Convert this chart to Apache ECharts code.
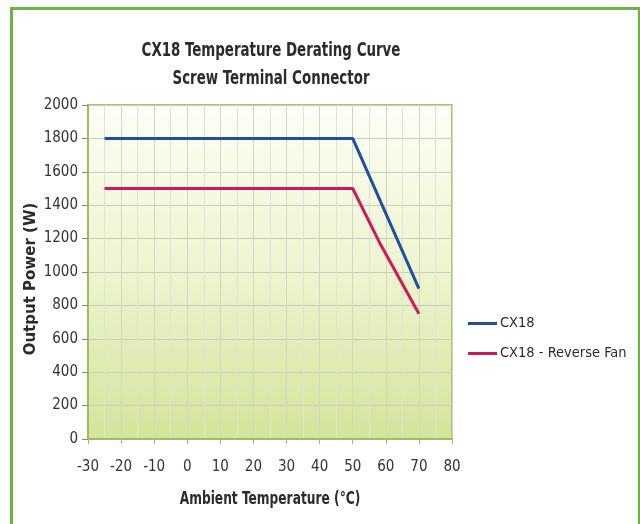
<!DOCTYPE html>
<html><head><meta charset="utf-8">
<script src="https://cdn.jsdelivr.net/npm/echarts@6/dist/echarts.min.js"></script>
<style>html,body{margin:0;padding:0;background:#fff}#c{width:640px;height:524px}</style>
</head><body><div id="c"></div>
<script>
const titleLines = ['CX18 Temperature Derating Curve', 'Screw Terminal Connector'];
const xName = 'Ambient Temperature (°C)';
const yName = 'Output Power (W)';
const seriesNames = ['CX18', 'CX18 - Reverse Fan'];
const cx18Temp = [-25, 50, 70];
const cx18Power = [1800, 1800, 900];
const revTemp = [-25, 50, 58, 70];
const revPower = [1500, 1500, 1180, 750];

const condensed = "'Liberation Sans Narrow','DejaVu Sans Condensed','Roboto Condensed',sans-serif";
const chart = echarts.init(document.getElementById('c'), null, {renderer: 'canvas'});
function label(text, x, y, size, opts) {
  return Object.assign({
    type: 'text', x: x, y: y, silent: true, z: 10,
    style: {text: text, font: 'bold ' + size + 'px ' + condensed, fill: '#2b2b2b',
            textAlign: 'center', textVerticalAlign: 'middle'}
  }, opts || {});
}
chart.setOption({
  animation: false,
  backgroundColor: '#ffffff',
  graphic: [
    {type: 'rect', left: 9, top: 6, shape: {width: 628, height: 540},
     style: {fill: 'none', stroke: '#6cb444', lineWidth: 3}, silent: true},
    label(titleLines[0], 271, 51, 20, {scaleX: 0.745}),
    label(titleLines[1], 271, 79, 20, {scaleX: 0.745}),
    label(xName, 270, 500, 17, {scaleX: 0.8}),
    {type: 'text', x: 31, y: 279, rotation: Math.PI / 2, silent: true, z: 10,
     style: {text: yName, font: "bold 15px 'DejaVu Sans',Verdana,sans-serif", fill: '#2b2b2b',
             textAlign: 'center', textVerticalAlign: 'middle'}}
  ],
  legend: {
    orient: 'vertical', left: 463, top: 311, itemGap: 15,
    itemWidth: 29, itemHeight: 3, icon: 'rect',
    textStyle: {fontFamily: condensed, fontSize: 14.5, color: '#2b2b2b', padding: [0, 0, 0, -2]},
    data: seriesNames
  },
  grid: {
    left: 88, right: 188, top: 105, bottom: 85, show: true,
    borderColor: '#a9c86a', borderWidth: 2,
    backgroundColor: new echarts.graphic.LinearGradient(0, 0, 0, 1, [
      {offset: 0, color: '#fdfef6'}, {offset: 0.5, color: '#edf4cf'}, {offset: 1, color: '#d3e49a'}
    ])
  },
  xAxis: {
    type: 'value', min: -30, max: 80, interval: 10,
    axisLine: {show: true, onZero: false, lineStyle: {color: '#9dbf5c', width: 2}},
    axisTick: {show: true, length: 5, lineStyle: {color: '#9dbf5c'}},
    axisLabel: {fontFamily: condensed, fontSize: 15, color: '#333', margin: 21},
    splitLine: {show: true, lineStyle: {color: '#d2d6c4', width: 1}},
    minorTick: {show: false, splitNumber: 2},
    minorSplitLine: {show: true, lineStyle: {color: '#e0e3d4', width: 1}}
  },
  yAxis: {
    type: 'value', min: 0, max: 2000, interval: 200,
    axisLine: {show: true, onZero: false, lineStyle: {color: '#9dbf5c', width: 2}},
    axisTick: {show: true, length: 6, lineStyle: {color: '#888'}},
    axisLabel: {fontFamily: condensed, fontSize: 15, color: '#333', margin: 10,
                formatter: v => String(v)},
    splitLine: {show: true, lineStyle: {color: '#c8ccbc', width: 1}}
  },
  series: [
    {name: seriesNames[0], type: 'line', symbol: 'none', color: '#1f4f9e',
     lineStyle: {width: 3, color: '#1f4f9e'},
     data: cx18Temp.map((t, i) => [t, cx18Power[i]])},
    {name: seriesNames[1], type: 'line', symbol: 'none', color: '#cc1a5e',
     lineStyle: {width: 3, color: '#cc1a5e'},
     data: revTemp.map((t, i) => [t, revPower[i]])}
  ]
});
</script></body></html>
